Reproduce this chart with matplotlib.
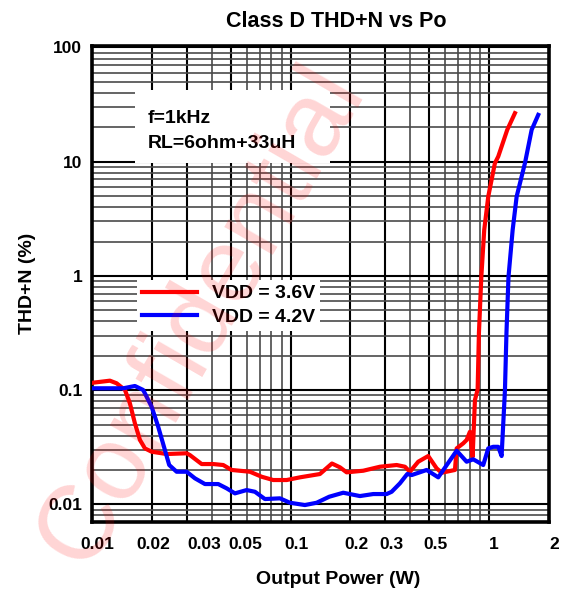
import matplotlib
matplotlib.use('Agg')
import matplotlib.pyplot as plt
import matplotlib.transforms as mtransforms
from matplotlib.ticker import FixedLocator, FixedFormatter, LogLocator, NullFormatter
from matplotlib.patches import Rectangle

plt.rcParams['font.family'] = ['Liberation Sans', 'DejaVu Sans']
plt.rcParams['font.weight'] = 'bold'

# ---- data ----
red_power = [0.01014, 0.0123, 0.0133, 0.01465, 0.01551, 0.01644, 0.01743, 0.01847, 0.01996,
             0.02375, 0.02995, 0.03111, 0.03564, 0.04076, 0.04577, 0.05045, 0.06238, 0.07145,
             0.08173, 0.09548, 0.1114, 0.1404, 0.1614, 0.1771, 0.1914, 0.2321, 0.2817, 0.3418,
             0.3763, 0.3988, 0.439, 0.4929, 0.5434, 0.5757, 0.6719, 0.6854, 0.7396, 0.7693,
             0.7993, 0.8248, 0.8472, 0.874, 0.8873, 0.9123, 0.9436, 0.9886, 1.068, 1.11,
             1.232, 1.347]
red_thd = [0.1162, 0.121, 0.1148, 0.1003, 0.0767, 0.0512, 0.0366, 0.0309, 0.0289,
           0.02758, 0.028, 0.027, 0.02254, 0.02254, 0.0221, 0.02, 0.0193, 0.01745,
           0.01633, 0.01633, 0.01724, 0.01843, 0.02278, 0.0211, 0.01907, 0.0197, 0.02135, 0.0221,
           0.02135, 0.0193, 0.02362, 0.0265, 0.02067, 0.01892, 0.02, 0.0309, 0.0342, 0.0366,
           0.0432, 0.02612, 0.082, 0.101, 0.3167, 0.98, 2.53, 4.95, 9.71, 11.1,
           19.0, 26.6]

blue_power = [0.01014, 0.01436, 0.01644, 0.0181, 0.01996, 0.02154, 0.02328, 0.02447, 0.02667,
              0.02995, 0.03297, 0.03702, 0.04319, 0.04762, 0.05242, 0.06004, 0.0661, 0.07424,
              0.08835, 0.0992, 0.118, 0.1352, 0.1564, 0.184, 0.2233, 0.2606, 0.3044, 0.3226,
              0.3551, 0.3865, 0.4068, 0.484, 0.5536, 0.6854, 0.7693, 0.8305, 0.9328, 0.9886,
              1.047, 1.11, 1.154, 1.193, 1.2, 1.221, 1.25, 1.312, 1.374, 1.513, 1.635, 1.765]
blue_thd = [0.1038, 0.1038, 0.1087, 0.1003, 0.0716, 0.0478, 0.0299, 0.0221, 0.0193,
            0.0193, 0.0169, 0.01506, 0.01506, 0.01381, 0.01248, 0.01334, 0.01289, 0.01113,
            0.01129, 0.01033, 0.00986, 0.01033, 0.01166, 0.01264, 0.01182, 0.01231, 0.01231, 0.01289,
            0.01528, 0.01843, 0.01805, 0.02, 0.01724, 0.02949, 0.02362, 0.02479, 0.0221, 0.0309,
            0.0319, 0.0319, 0.0265, 0.082, 0.101, 0.3167, 0.98, 2.53, 4.95, 9.71, 19.0, 25.7]

series_labels = ['VDD = 3.6V', 'VDD = 4.2V']
x_ticks = [0.01, 0.02, 0.03, 0.05, 0.1, 0.2, 0.3, 0.5, 1, 2]
x_tick_labels = ['0.01', '0.02', '0.03', '0.05', '0.1', '0.2', '0.3', '0.5', '1', '2']
y_ticks = [0.01, 0.1, 1, 10, 100]
y_tick_labels = ['0.01', '0.1', '1', '10', '100']
note_text = 'f=1kHz\nRL=6ohm+33uH'
watermark_text = 'Confidential'

# ---- figure ----
fig = plt.figure(figsize=(5.67, 5.95), dpi=100)
ax = fig.add_axes([0.1623, 0.1232, 0.8060, 0.8003])
ax.set_xscale('log')
ax.set_yscale('log')
ax.set_xlim(0.01, 2)
ax.set_ylim(0.00705, 104)

ax.xaxis.set_major_locator(FixedLocator(x_ticks))
ax.xaxis.set_major_formatter(FixedFormatter(x_tick_labels))
ax.xaxis.set_minor_locator(LogLocator(base=10, subs=range(1, 10), numticks=30))
ax.xaxis.set_minor_formatter(NullFormatter())
ax.yaxis.set_major_locator(FixedLocator(y_ticks))
ax.yaxis.set_major_formatter(FixedFormatter(y_tick_labels))
ax.yaxis.set_minor_locator(LogLocator(base=10, subs=range(1, 10), numticks=30))
ax.yaxis.set_minor_formatter(NullFormatter())

ax.set_axisbelow(True)
ax.grid(True, which='major', color='black', linewidth=1.5)
ax.grid(True, which='minor', color='#4a4a4a', linewidth=1.2)
ax.tick_params(which='both', length=0)
ax.tick_params(axis='x', which='major', pad=11, labelsize=12.5)
ax.tick_params(axis='y', which='major', pad=7, labelsize=12.5)
for s in ax.spines.values():
    s.set_linewidth(2.6)
    s.set_color('black')

# shift x tick labels slightly right as in the reference
label_shift_px = [5, 2, 17, 14, 6, 6, 6, 6, 5, 5]
for lab, dx in zip(ax.xaxis.get_majorticklabels(), label_shift_px):
    off = mtransforms.ScaledTranslation(dx / 100.0, 0, fig.dpi_scale_trans)
    lab.set_transform(lab.get_transform() + off)

# white note box
ax.add_patch(Rectangle((0.0941, 0.7533), 0.4267, 0.1533, transform=ax.transAxes,
                       facecolor='white', edgecolor='none', zorder=1.5))
ax.text(0.1225, 0.8646, note_text, transform=ax.transAxes, fontsize=14,
        fontweight='bold', ha='left', va='top', linespacing=1.6, zorder=1.6)

ax.plot(red_power, red_thd, color='#ff0000', linewidth=3, label=series_labels[0], zorder=3)
ax.plot(blue_power, blue_thd, color='#0000ff', linewidth=3, label=series_labels[1], zorder=3)

leg = ax.legend(loc='upper left', bbox_to_anchor=(0.0985, 0.5076), borderaxespad=0,
                frameon=True, fancybox=False, framealpha=1, facecolor='white',
                edgecolor='none', fontsize=14, handlelength=2.85, handletextpad=0.75,
                labelspacing=0.3, borderpad=0.25)
for t in leg.get_texts():
    t.set_fontweight('bold')

ax.set_xlabel('Output Power (W)', fontsize=14, fontweight='bold', va='center')
ax.xaxis.set_label_coords(0.539, -0.1224)
ax.set_ylabel('THD+N (%)', fontsize=14, fontweight='bold', va='center')
ax.yaxis.set_label_coords(-0.142, 0.5)
ax.set_title('Class D THD+N vs Po', fontsize=15.5, fontweight='bold',
             x=0.535, y=1.050, va='center', pad=0)

# watermark (kept inside the picture)
fig.text(0.1517, 0.042, watermark_text, rotation=60, rotation_mode='anchor',
         fontsize=76, color=(1, 0, 0, 0.17), fontweight='normal',
         ha='left', va='baseline', zorder=10)

fig.savefig('out.png', dpi=100)
